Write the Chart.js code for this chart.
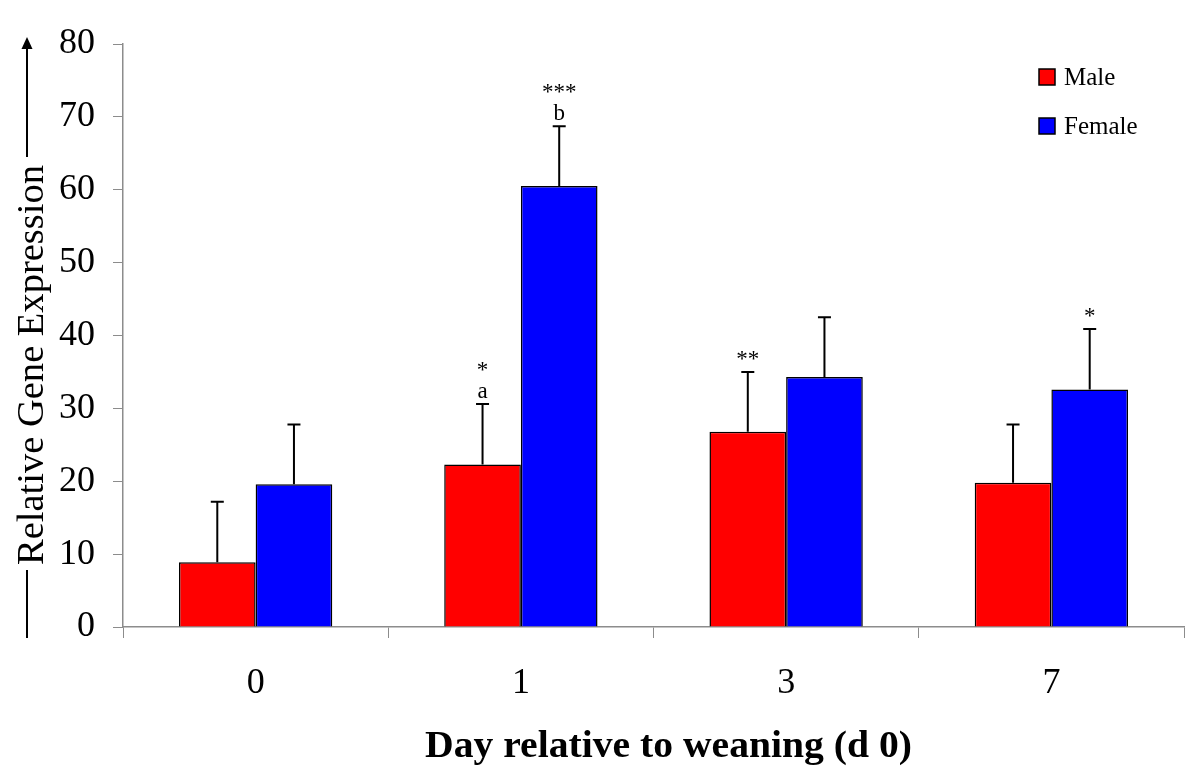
<!DOCTYPE html>
<html>
<head>
<meta charset="utf-8">
<script src="https://cdn.jsdelivr.net/npm/chart.js@4/dist/chart.umd.min.js"></script>
<style>
  html, body { margin: 0; padding: 0; background: #fff; }
  #wrap { width: 1200px; height: 776px; }
</style>
</head>
<body>
<div id="wrap"><canvas id="geneChart" width="1200" height="776"></canvas></div>
<script>
// data
const days = ["0", "1", "3", "7"];
const maleMeans = [8.9, 22.3, 26.8, 19.8];
const femaleMeans = [19.6, 60.5, 34.3, 32.6];
const maleSem = [8.3, 8.3, 8.2, 8.0];
const femaleSem = [8.2, 8.2, 8.2, 8.3];
const maleMarks = [[], ["*", "a"], ["**"], []];
const femaleMarks = [[], ["***", "b"], [], ["*"]];
const yTicks = [0, 10, 20, 30, 40, 50, 60, 70, 80];

const SERIF = "'Liberation Serif', 'Times New Roman', serif";
const AXIS_GREY = "#8c8c8c";

// draws text squeezed/stretched to a given width
function fitText(ctx, text, x, y, width) {
  const w = ctx.measureText(text).width;
  ctx.save();
  ctx.translate(x, y);
  ctx.scale(width / w, 1);
  ctx.fillText(text, 0, 0);
  ctx.restore();
}

// error bars (upper only) plus the significance marks above them
const errorBarPlugin = {
  id: "errorBars",
  afterDatasetsDraw(chart) {
    const ctx = chart.ctx;
    const y = chart.scales.y;
    const sems = [maleSem, femaleSem];
    const marks = [maleMarks, femaleMarks];
    ctx.save();
    chart.data.datasets.forEach((ds, di) => {
      chart.getDatasetMeta(di).data.forEach((bar, i) => {
        const top = y.getPixelForValue(ds.data[i] + sems[di][i]);
        ctx.strokeStyle = "#000";
        ctx.lineWidth = 2;
        ctx.beginPath();
        ctx.moveTo(bar.x, bar.y);
        ctx.lineTo(bar.x, top);
        ctx.moveTo(bar.x - 6.5, top);
        ctx.lineTo(bar.x + 6.5, top);
        ctx.stroke();

        const lines = marks[di][i];
        ctx.fillStyle = "#000";
        ctx.font = "23px " + SERIF;
        ctx.textAlign = "center";
        ctx.textBaseline = "alphabetic";
        lines.forEach((txt, k) => {
          const base = top - 6 - (lines.length - 1 - k) * 21;
          ctx.fillText(txt, bar.x, base);
        });
      });
    });
    ctx.restore();
  },
};

// axis titles and legend drawn by hand
const decorPlugin = {
  id: "decor",
  afterDraw(chart) {
    const ctx = chart.ctx;
    ctx.save();
    ctx.fillStyle = "#000";
    ctx.strokeStyle = "#000";

    // x title
    ctx.font = "bold 38px " + SERIF;
    ctx.textAlign = "left";
    ctx.textBaseline = "alphabetic";
    fitText(ctx, "Day relative to weaning (d 0)", 425, 757, 487);

    // y title with arrow line
    const yTitle = "Relative Gene Expression";
    ctx.font = "38px " + SERIF;
    const cy = 365;
    ctx.save();
    ctx.translate(43, cy);
    ctx.rotate(-Math.PI / 2);
    ctx.textAlign = "left";
    fitText(ctx, yTitle, -200, 0, 400);
    ctx.restore();

    ctx.lineWidth = 2;
    ctx.beginPath();
    ctx.moveTo(27, 638);
    ctx.lineTo(27, 570);
    ctx.moveTo(27, 157);
    ctx.lineTo(27, 46);
    ctx.stroke();
    ctx.beginPath();
    ctx.moveTo(27, 37);
    ctx.lineTo(21.5, 49);
    ctx.lineTo(32.5, 49);
    ctx.closePath();
    ctx.fill();

    // legend
    ctx.font = "25px " + SERIF;
    ctx.textAlign = "left";
    chart.data.datasets.forEach((ds, i) => {
      const top = 69 + i * 49;
      ctx.fillStyle = ds.backgroundColor;
      ctx.fillRect(1039, top, 16, 16);
      ctx.lineWidth = 1.5;
      ctx.strokeStyle = "#000";
      ctx.strokeRect(1039, top, 16, 16);
      ctx.fillStyle = "#000";
      ctx.fillText(ds.label, 1064, top + 16);
    });
    ctx.restore();
  },
};

const canvas = document.getElementById("geneChart");
new Chart(canvas, {
  type: "bar",
  data: {
    labels: days,
    datasets: [
      {
        label: "Male",
        data: maleMeans,
        backgroundColor: "#ff0000",
        borderColor: "#000",
        borderWidth: 1.5,
      },
      {
        label: "Female",
        data: femaleMeans,
        backgroundColor: "#0000ff",
        borderColor: "#000",
        borderWidth: 1.5,
      },
    ],
  },
  options: {
    responsive: false,
    animation: false,
    devicePixelRatio: 1,
    layout: { padding: { left: 0, top: 44, right: 16, bottom: 0 } },
    datasets: {
      bar: { categoryPercentage: 0.578, barPercentage: 1 },
    },
    scales: {
      x: {
        grid: {
          offset: true,
          drawOnChartArea: false,
          drawTicks: true,
          tickLength: 11,
          color: AXIS_GREY,
        },
        border: { color: AXIS_GREY, width: 1.5 },
        ticks: {
          color: "#000",
          font: { family: SERIF, size: 36 },
          padding: 24,
        },
        afterFit(scale) {
          scale.height = 776 - 627;
        },
      },
      y: {
        min: 0,
        max: 80,
        afterBuildTicks(scale) {
          scale.ticks = yTicks.map((v) => ({ value: v }));
        },
        grid: {
          drawOnChartArea: false,
          drawTicks: true,
          tickLength: 10,
          color: AXIS_GREY,
        },
        border: { color: AXIS_GREY, width: 1.5 },
        ticks: {
          color: "#000",
          font: { family: SERIF, size: 36 },
          padding: 18,
        },
        afterFit(scale) {
          scale.width = 123;
        },
      },
    },
    plugins: {
      legend: { display: false },
      tooltip: { enabled: false },
    },
  },
  plugins: [errorBarPlugin, decorPlugin],
});
</script>
</body>
</html>
